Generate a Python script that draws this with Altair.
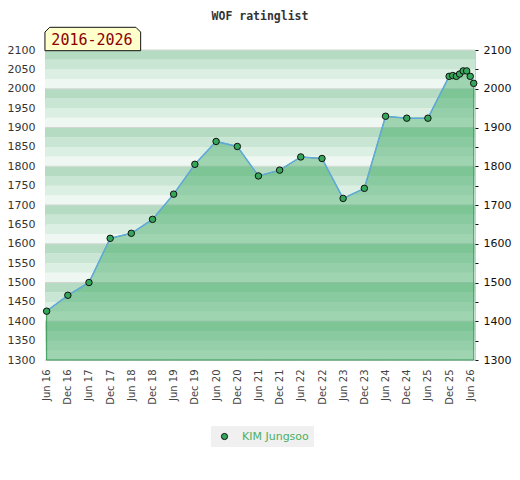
import altair as alt
import pandas as pd
import numpy as np

# ---- data ----
title_text = "WOF ratinglist"
period_label = "2016-2026"
player = "KIM Jungsoo"

dates = ["2016-06-01", "2016-12-01", "2017-06-01", "2017-12-01", "2018-06-01",
         "2018-12-01", "2019-06-01", "2019-12-01", "2020-06-01", "2020-12-01",
         "2021-06-01", "2021-12-01", "2022-06-01", "2022-12-01", "2023-06-01",
         "2023-12-01", "2024-06-01", "2024-12-01", "2025-06-01", "2025-12-01",
         "2026-01-01", "2026-02-01", "2026-03-01", "2026-04-01", "2026-05-01",
         "2026-06-01", "2026-07-01"]
ratings = [1426, 1467, 1500, 1614, 1627, 1663, 1728, 1805, 1864, 1851,
           1775, 1790, 1824, 1820, 1717, 1743, 1929, 1924, 1924, 2032,
           2034, 2032, 2038, 2046, 2046, 2032, 2014]

tick_years = list(range(2016, 2027))
tick_months = [6, 12]
y_ticks = list(range(1300, 2101, 50))

# ---- tables ----
df = pd.DataFrame({"date": dates, "rating": ratings, "series": [player] * len(dates)})

band_starts = np.arange(1300, 2100, 25)
bands = pd.DataFrame({"y0": band_starts, "y1": band_starts + 25})
bands["shade"] = ((2100 - bands["y1"]) // 25) % 4
seps = pd.DataFrame({"v": list(range(1300, 2101, 100))})
label_df = pd.DataFrame({"label": [period_label]})

W, H = 430, 310

x_ticks = [alt.DateTime(year=y, month=m, date=1, utc=True)
           for y in tick_years for m in tick_months
           if not (y == 2026 and m == 12)]

yscale = alt.Scale(domain=[1300, 2100], nice=False, zero=False)
xscale = alt.Scale(type="utc",
                   domain=[alt.DateTime(year=2016, month=5, date=18, utc=True),
                           alt.DateTime(year=2026, month=7, date=12, utc=True)])

x_axis = alt.Axis(values=x_ticks, labelExpr="utcFormat(datum.value, '%b %y')",
                  labelAngle=270, ticks=False, domain=False, grid=False,
                  labelPadding=9, labelFont="DejaVu Sans", labelFontSize=10,
                  labelColor="#444444", title=None)
left_axis = alt.Axis(orient="left", values=y_ticks, format="d", ticks=False,
                     domain=False, grid=False, labelPadding=10,
                     labelFont="DejaVu Sans", labelFontSize=11,
                     labelColor="#333333", title=None)
right_axis = alt.Axis(orient="right", values=y_ticks, format="d",
                      labelExpr="datum.value % 100 === 0 ? datum.label : ''",
                      ticks=True, tickSize=3, tickColor="#111111", domain=False,
                      grid=False, labelPadding=5, labelFont="DejaVu Sans",
                      labelFontSize=11, labelColor="#111111", title=None)

X = alt.X("date:T", scale=xscale, axis=x_axis)

bands_layer = alt.Chart(bands).mark_rect().encode(
    x=alt.value(0), x2=alt.value(W),
    y=alt.Y("y0:Q", scale=yscale, axis=None), y2="y1:Q",
    color=alt.Color("shade:O", legend=None,
                    scale=alt.Scale(domain=[0, 1, 2, 3],
                                    range=["#b5dcc2", "#c8e6d3", "#dcefe3", "#eef7f1"])),
)

sep_layer = alt.Chart(seps).mark_rule(color="#d2d6d3", strokeWidth=1).encode(
    y=alt.Y("v:Q", scale=yscale, axis=None)
)

area = alt.Chart(df).mark_area(fill="#3ca862", fillOpacity=0.45,
                               stroke="#3c9c5c", strokeWidth=1).encode(
    x=X,
    y=alt.Y("rating:Q", scale=yscale, axis=left_axis),
    y2=alt.datum(1300),
)

line = alt.Chart(df).mark_line(color="#62a9dc", strokeWidth=1.5).encode(
    x=X,
    y=alt.Y("rating:Q", scale=yscale, axis=right_axis),
)

points = alt.Chart(df).mark_point(filled=True, size=42, stroke="#111111",
                                  strokeWidth=1, opacity=1).encode(
    x=X,
    y=alt.Y("rating:Q", scale=yscale, axis=None),
    fill=alt.Fill("series:N", scale=alt.Scale(range=["#35a65a"]),
                  legend=alt.Legend(title=None, orient="none", legendX=166, legendY=376,
                                    direction="horizontal", fillColor="#f0f0f0",
                                    padding=5, symbolSize=38, symbolType="circle",
                                    symbolStrokeColor="#111111", symbolStrokeWidth=1,
                                    symbolOffset=3, labelOffset=12,
                                    labelColor="#4caf64", labelFont="DejaVu Sans",
                                    labelFontSize=11)),
)

box_path = "M-1,0.2445L-1,-0.1445L-0.9,-0.2445L0.9,-0.2445L1,-0.1445L1,0.2445Z"
box = alt.Chart(label_df).mark_point(shape=box_path, size=9158, filled=True,
                                     fill="#ffffcc", stroke="#111111",
                                     strokeWidth=1, opacity=1).encode(
    x=alt.value(47.8), y=alt.value(-11)
)
box_text = alt.Chart(label_df).mark_text(font="DejaVu Sans Mono", fontSize=15,
                                         color="#8b0000", align="center",
                                         baseline="alphabetic").encode(
    x=alt.value(47), y=alt.value(-5.5), text="label:N"
)

chart = alt.layer(bands_layer, sep_layer, area, line, points, box, box_text).resolve_axis(
    y="independent"
).properties(
    width=W, height=H,
    title=alt.TitleParams(text=title_text, font="DejaVu Sans Mono", fontSize=11.5,
                          fontWeight="bold", color="#333333", anchor="middle", offset=3),
    padding={"left": 37, "top": 42, "right": 37, "bottom": 110},
    autosize=alt.AutoSizeParams(type="none"),
).configure_view(stroke="#cccccc", strokeWidth=1)

chart.save("out.html", embed_options={"renderer": "svg", "actions": False})
